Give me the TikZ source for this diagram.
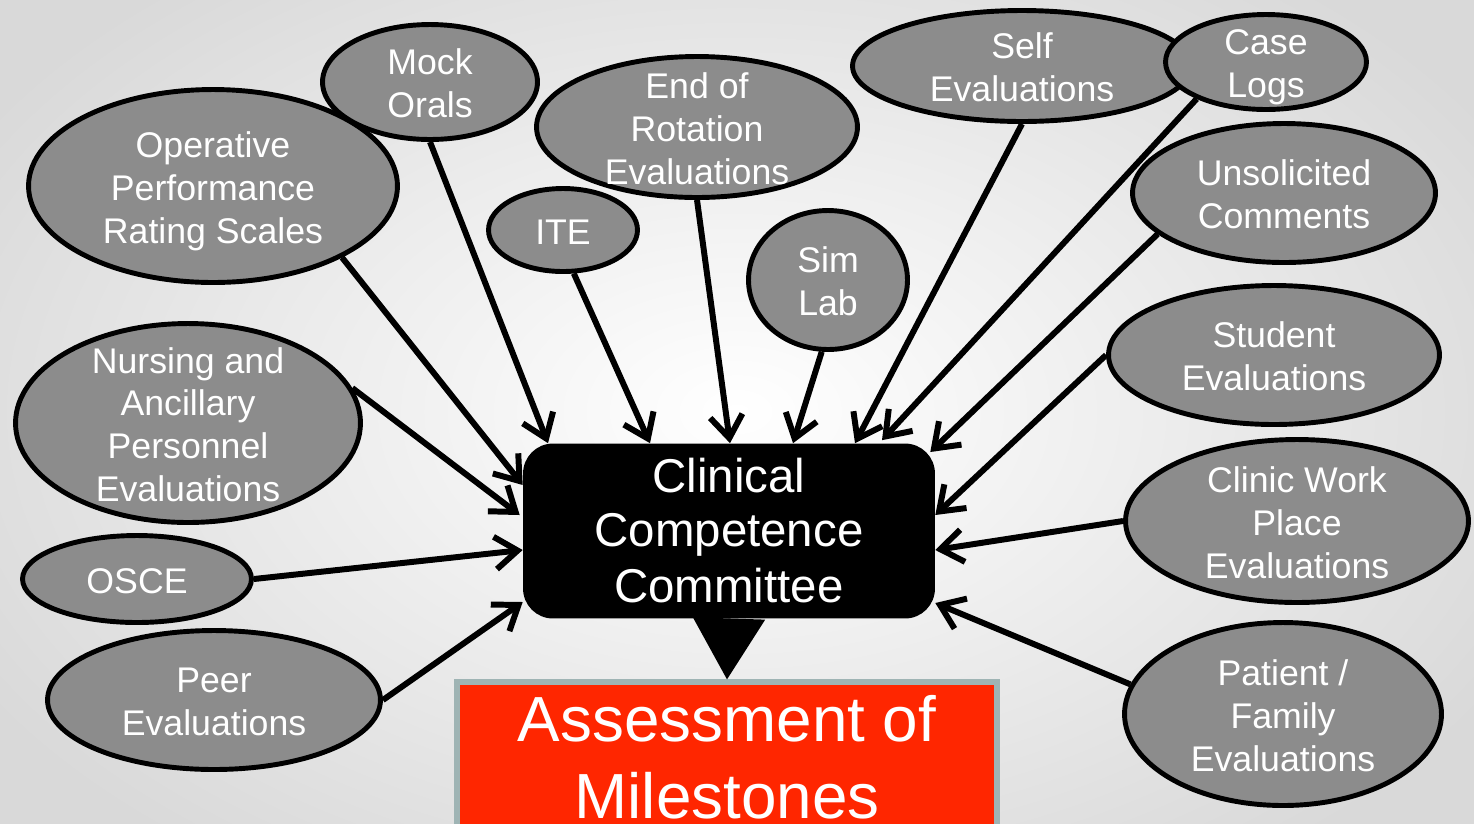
\documentclass[tikz,border=0pt]{standalone}
\usepackage{fontspec}
\setmainfont{Liberation Sans}
\usetikzlibrary{shapes.geometric,arrows.meta,calc}

\definecolor{srcgray}{HTML}{8C8C8C}
\definecolor{msred}{HTML}{FF2600}
\definecolor{msedge}{HTML}{9FB4B4}

\newcommand{\ovaltext}[1]{\smash{\raisebox{-8.5pt}{\begin{tabular}{@{}c@{}}#1\end{tabular}}}}

\begin{document}
\begin{tikzpicture}[x=0.02cm,y=-0.02cm]
	\tikzset{source/.style={ellipse,draw=black,line width=2.8pt,fill=srcgray,text=white,inner sep=0pt,font=\fontsize{20.3}{24.4}\selectfont}}
	\tikzset{feed/.style={line width=3.4pt,-{Straight Barb[length=4.5mm,width=6.5mm]}}}

	\useasboundingbox (0,0) rectangle (1474,823);
	\shade[inner color=white,outer color=gray!30] (-150,-150) rectangle (1624,973);

	\node[source,minimum width=7.38cm,minimum height=3.86cm] (opr) at (213,186) {\ovaltext{Operative\\Performance\\Rating Scales}};
	\node[source,minimum width=4.3cm,minimum height=2.3cm] (mock) at (430,82) {\ovaltext{Mock\\Orals}};
	\node[source,minimum width=6.42cm,minimum height=2.82cm] (eor) at (697,127) {\ovaltext{End of\\Rotation\\Evaluations}};
	\node[source,minimum width=2.98cm,minimum height=1.66cm] (ite) at (563,230) {\ovaltext{ITE}};
	\node[source,minimum width=3.18cm,minimum height=2.78cm] (sim) at (828,280) {\ovaltext{Sim\\Lab}};
	\node[source,minimum width=6.78cm,minimum height=2.22cm] (self) at (1022,66) {\ovaltext{Self\\Evaluations}};
	\node[source,minimum width=4.02cm,minimum height=1.9cm] (case) at (1266,62) {\ovaltext{Case\\Logs}};
	\node[source,minimum width=6.06cm,minimum height=2.78cm] (unsol) at (1284,193) {\ovaltext{Unsolicited\\Comments}};
	\node[source,minimum width=6.62cm,minimum height=2.78cm] (stud) at (1274,355) {\ovaltext{Student\\Evaluations}};
	\node[source,minimum width=6.86cm,minimum height=3.26cm] (cwp) at (1297,521) {\ovaltext{Clinic Work\\Place\\Evaluations}};
	\node[source,minimum width=6.34cm,minimum height=3.66cm] (pfe) at (1283,714) {\ovaltext{Patient /\\Family\\Evaluations}};
	\node[source,minimum width=6.9cm,minimum height=3.98cm] (nap) at (188,423) {\ovaltext{Nursing and\\Ancillary\\Personnel\\Evaluations}};
	\node[source,minimum width=4.58cm,minimum height=1.74cm] (osce) at (137,579) {\ovaltext{OSCE}};
	\node[source,minimum width=6.66cm,minimum height=2.78cm] (peer) at (214,700) {\ovaltext{Peer\\Evaluations}};

	\node[fill=black,rounded corners=0.6cm,minimum width=8.24cm,minimum height=3.5cm,inner sep=0pt,text=white,align=center,font=\fontsize{27}{32.3}\selectfont] (ccc) at (729,531) {\raisebox{-2pt}{Clinical}\\Competence\\Committee};
	\node[fill=msred,draw=msedge,line width=3pt,minimum width=10.8cm,minimum height=3cm,inner sep=0pt,text=white,align=center,font=\fontsize{36.3}{43.7}\selectfont] (moa) at (727,757) {Assessment of\\Milestones};

	\draw[line width=1pt,-{Triangle[length=1.22cm,width=1.44cm]}] (ccc.south) -- (moa.north);

	\draw[feed] (opr.-29) -- ($(ccc.west)+(0,-46)$);
	\draw[feed] (mock.-90) -- ($(ccc.north)+(-181,0)$);
	\draw[feed] (ite.-76) -- ($(ccc.north)+(-79,0)$);
	\draw[feed] (eor.-90) -- ($(ccc.north)+(1,0)$);
	\draw[feed] (sim.-95) -- ($(ccc.north)+(64,0)$);
	\draw[feed] (self.-90) -- ($(ccc.north)+(126,0)$);
	\draw[feed] (case.208) -- ($(ccc.north)+(153,-3)$);
	\draw[feed] (unsol.198) -- ($(ccc.east)+(-5,-79)$);
	\draw[feed] (stud.180) -- ($(ccc.east)+(0,-16)$);
	\draw[feed] (cwp.180) -- ($(ccc.east)+(0,19)$);
	\draw[feed] (pfe.169) -- ($(ccc.east)+(0,72)$);
	\draw[feed] (nap.12) -- ($(ccc.west)+(-3,-16)$);
	\draw[feed] (osce.0) -- ($(ccc.west)+(0,19)$);
	\draw[feed] (peer.0) -- ($(ccc.west)+(0,71)$);
\end{tikzpicture}
\end{document}
